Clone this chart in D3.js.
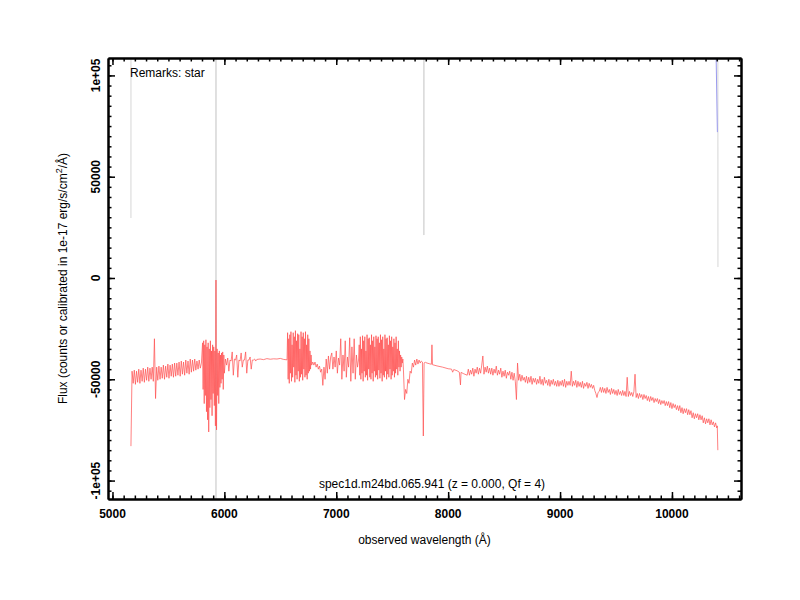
<!DOCTYPE html>
<html>
<head>
<meta charset="utf-8">
<script src="https://cdn.jsdelivr.net/npm/d3@7"></script>
<style>
  body { margin: 0; background: #fff; }
  svg { display: block; font-family: "Liberation Sans", Arial, sans-serif; }
</style>
</head>
<body>
<div id="chart"></div>
<script>
// All flux values below are in units of 1000 (1e-17 erg/s/cm^2/A)

// Spectrum, sampled on regular wavelength grids (start, step, values)
const fluxA = [-83, -46, -52, -45.5, -52.5, -46, -51.5, -45, -52, -45.5,
  -51, -44.5, -51.5, -45, -50.5, -44, -51, -44.5, -50, -44,
  -51, -30, -59.5, -44, -50.5, -43.5, -50, -44, -49.5, -43,
  -50, -43.5, -49, -42.5, -49.5, -43, -48.5, -42.5, -49, -42,
  -48.5, -42, -48, -41.5, -48.5, -41, -47.5, -41.5, -48, -40.5,
  -47, -41, -47.5, -40, -46.5, -40.5, -46, -40, -45.5, -41,
  -45, -40.5, -44.5, -42];
const fluxB = [-32, -55, -31, -62, -33, -58, -30.5, -66, -34, -70,
  -32, -76, -35, -64, -31, -60, -36, -68, -33, -57,
  -34, -63, -36, -73, -1, -75, -35, -58, -37, -62,
  -36, -54, -38, -52, -37, -50, -36.5, -55, -38, -47];
const fluxC = [-40, -43, -39.5, -46, -40.5, -41, -36.5, -48, -40, -40.5,
  -38, -49, -40.5, -41, -37, -44, -40.5, -40.5, -36.5, -47,
  -40.5, -40.5, -39, -45, -40.5, -40.5, -40, -41];
const fluxE = [-27, -50, -30, -52, -28, -47, -26.5, -51, -33, -49,
  -27, -44, -29, -51.5, -26, -48, -31, -50, -27.5, -46,
  -28, -51, -35, -49, -26.5, -47.5, -29, -50.5, -27, -45,
  -30, -49, -26.5, -48, -33, -50, -28, -47, -30, -46,
  -36, -45, -38, -43];
const fluxF = [-41.5, -43, -41.5, -44, -42.5, -45, -43.5, -46.5, -45, -53,
  -44, -50, -40, -47, -38.5, -45, -39];
const fluxG1 = [-37, -45, -39, -44, -36, -47, -39.5, -43, -30, -50,
  -38, -46, -31, -49, -39, -44, -29.5, -51, -34, -47,
  -30, -50, -38, -44, -40];
const fluxG2 = [-33, -48, -29, -50, -35, -47, -28.5, -51, -31, -46,
  -29, -49, -36, -48, -28, -50.5, -30, -45, -29.5, -49,
  -33, -50, -28, -47, -31, -51, -29, -46, -34, -49,
  -28.5, -48, -30, -50, -29, -45.5, -32, -49.5, -28, -47,
  -30.5, -51, -29, -48, -35, -49, -28, -46, -30, -50,
  -29.5, -47.5, -33, -49, -28.5, -45, -31, -50, -29, -48,
  -34, -46, -30, -49, -32, -47, -29, -45, -35, -48,
  -31, -44, -36, -46, -38, -44, -39, -42, -40];
const fluxJ = [
  -45, -48, -45.5, -47.5, -44.5, -48.5, -45, -47, -44, -47.5,
  -44.5, -47, -43, -38.5, -47.5, -44, -46.5, -43.5, -47, -44.5,
  -47.5, -44.5, -48, -45, -47, -43.5, -48, -45.5, -47.5, -44.5,
  -49, -46, -48.5, -45.5, -49.5, -46.5, -48, -46, -50, -46.5,
  -50.5, -47, -51, -60, -42, -50.5, -47.5, -51, -48, -50.5,
  -49, -51.5, -48.5, -52, -49, -51.5, -48.5, -52.5, -49.5, -51.5,
  -49.5, -52.5, -50, -52, -48.5, -52.5, -50, -53, -49, -52,
  -50.5, -53, -50, -53.5, -50.5, -52.5, -50, -53, -51, -53.5,
  -50.5, -53.5, -51, -53, -50.5, -53.5, -50, -54, -51, -53,
  -51, -53, -46, -53.5, -51, -53, -50.5, -54, -51, -53.5,
  -51.5, -54, -51, -54.5, -52, -53.5, -51.5, -54.5, -52, -54,
  -52.5, -54.5, -53, -55.5, -57, -59, -56.5, -56, -54, -56.5,
  -54, -56.5, -54.5, -57, -54, -56.5, -55, -57.5, -54.5, -57,
  -55, -57.5, -55.5, -58, -55, -57.5, -56, -58, -55.5, -58,
  -56, -58.5, -49, -58.5, -56, -58, -56.5, -58.5, -56, -47.5,
  -59, -57, -59.5, -57, -59, -57.5, -60, -57.5, -59.5, -58,
  -60.5, -58.5, -61, -58.5, -60.5, -59, -61.5, -59.5, -61, -59.5,
  -62, -60, -62.5, -60.5, -62, -60.5, -63, -61, -63, -61,
  -64, -61.5, -64.5, -62, -64, -62.5, -65, -63, -65.5, -63,
  -66.5, -64, -67, -64.5, -66.5, -64.5, -67.5, -65, -67.5, -65.5,
  -69, -66.5, -69.5, -67, -69, -67, -70, -67.5, -70, -68,
  -71.5, -69, -72, -69.5, -71.5, -69.5, -72.5, -70, -72.5, -71,
  -73.5, -71.5, -74];

// Spectrum, sparse parts as [wavelength, flux] pairs
const fluxFlat = [[6290, -40.2], [6320, -40], [6350, -40.3], [6380, -39.8], [6410, -40.1],
  [6440, -39.9], [6470, -40], [6500, -39.7], [6530, -40.2], [6560, -40.4]];
const fluxABand = [[7600, -45], [7610, -60], [7620, -55], [7630, -57], [7640, -50],
  [7650, -52], [7660, -46], [7670, -47], [7680, -42], [7690, -44], [7700, -40.5],
  [7710, -43], [7720, -40], [7730, -42.5], [7740, -40.5], [7750, -42], [7760, -41],
  [7770, -41.5], [7778, -78], [7785, -42], [7795, -41.5]];
const fluxSmooth = [[7800, -41.8], [7830, -42.3], [7850, -42.6], [7855, -33], [7860, -42.8],
  [7900, -43.4], [7950, -44], [8000, -44.8], [8030, -45], [8040, -46.5], [8050, -45.2],
  [8080, -45.8], [8100, -46.5], [8110, -52.8], [8115, -46.6], [8140, -47.3], [8170, -48]];
const fluxEnd = [[10405, -73], [10410, -85]];

// Grey (error) and blue traces, mostly off the top of the plot
const greyTrace = [[5165, 29.6], [5167, 500], [5924, 500], [5925, -500], [5926, 500],
  [7781, 500], [7783, 21.2], [7786, 500], [10408, 500], [10411, 5.4]];
const blueTrace = [[10390, 125], [10406, 72]];

// Axis ticks
const xMajor = [5000, 6000, 7000, 8000, 9000, 10000];
const xMinor = d3.range(5000, 10601, 100);
const yMajor = [-100000, -50000, 0, 50000, 100000];
const yLabels = ["-1e+05", "-50000", "0", "50000", "1e+05"];
const yMinor = d3.range(-105000, 105001, 5000);

const remark = "Remarks: star";
const specTitle = "spec1d.m24bd.065.941 (z = 0.000, Qf = 4)";

// Build the full spectrum from the pieces, in wavelength order
function gridded(start, step, values) {
    return values.map((v, i) => [start + i * step, v]);
}
const spectrum = [].concat(
    gridded(5165, 10, fluxA),
    gridded(5805, 5, fluxB),
    gridded(6010, 10, fluxC),
    fluxFlat,
    gridded(6565, 5, fluxE),
    gridded(6790, 10, fluxF),
    gridded(6960, 10, fluxG1),
    gridded(7205, 5, fluxG2),
    fluxABand,
    fluxSmooth,
    gridded(8180, 10, fluxJ),
    fluxEnd
);

const W = 800, H = 600;
const margin = { top: 58, right: 59, bottom: 101, left: 108 },
    width = W - margin.left - margin.right,
    height = H - margin.top - margin.bottom;

const x = d3.scaleLinear().domain([4960, 10617]).range([0, width]);
const y = d3.scaleLinear().domain([-109100, 108600]).range([height, 0]);

const svg = d3.select("#chart").append("svg")
    .attr("width", W)
    .attr("height", H);

const g = svg.append("g")
    .attr("transform", `translate(${margin.left},${margin.top})`);

g.append("clipPath").attr("id", "clip")
    .append("rect").attr("width", width).attr("height", height);

const line = d3.line()
    .x(d => x(d[0]))
    .y(d => y(d[1] * 1000));

const plot = g.append("g").attr("clip-path", "url(#clip)");

plot.append("path").datum(greyTrace)
    .attr("d", line)
    .attr("fill", "none")
    .attr("stroke", "#d6d6d6")
    .attr("stroke-width", 1);

plot.append("path").datum(blueTrace)
    .attr("d", line)
    .attr("fill", "none")
    .attr("stroke", "#9a9aee")
    .attr("stroke-width", 1);

plot.append("path").datum(spectrum)
    .attr("d", line)
    .attr("fill", "none")
    .attr("stroke", "#ff5050")
    .attr("stroke-opacity", 0.72)
    .attr("stroke-width", 1);

// Axes: inward ticks on all four sides, major and minor
function styleAxis(sel, w) {
    sel.selectAll("path").attr("stroke", "#000").attr("stroke-width", 2);
    sel.selectAll("line").attr("stroke", "#000").attr("stroke-width", w);
}

const axes = [
    [d3.axisBottom(x), `translate(0,${height})`],
    [d3.axisTop(x), null],
];
axes.forEach(([ax, tr]) => {
    const major = g.append("g").attr("transform", tr)
        .call(ax.tickValues(xMajor).tickSizeInner(-7).tickSizeOuter(0).tickFormat(""));
    styleAxis(major, 1.5);
    const minor = g.append("g").attr("transform", tr)
        .call(ax.tickValues(xMinor).tickSizeInner(-3.5).tickSizeOuter(0).tickFormat(""));
    styleAxis(minor, 1.5);
});

[[d3.axisLeft(y), null], [d3.axisRight(y), `translate(${width},0)`]].forEach(([ax, tr]) => {
    const major = g.append("g").attr("transform", tr)
        .call(ax.tickValues(yMajor).tickSizeInner(-7).tickSizeOuter(0).tickFormat(""));
    styleAxis(major, 1.5);
    const minor = g.append("g").attr("transform", tr)
        .call(ax.tickValues(yMinor).tickSizeInner(-3.5).tickSizeOuter(0).tickFormat(""));
    styleAxis(minor, 1.5);
});

// Tick labels
g.selectAll(".xlab").data(xMajor).enter()
    .append("text")
    .attr("class", "xlab")
    .attr("x", d => x(d))
    .attr("y", height + 19)
    .attr("text-anchor", "middle")
    .attr("font-size", 12)
    .attr("font-weight", "bold")
    .text(d => d);

g.selectAll(".ylab").data(yMajor).enter()
    .append("text")
    .attr("class", "ylab")
    .attr("transform", d => `translate(-8,${y(d)}) rotate(-90)`)
    .attr("text-anchor", "middle")
    .attr("font-size", 12)
    .attr("font-weight", "bold")
    .text((d, i) => yLabels[i]);

// Axis titles
svg.append("text")
    .attr("x", margin.left + width / 2)
    .attr("y", 544)
    .attr("text-anchor", "middle")
    .attr("font-size", 12)
    .text("observed wavelength (Å)");

const yTitle = svg.append("text")
    .attr("transform", `translate(67,${margin.top + height / 2}) rotate(-90)`)
    .attr("text-anchor", "middle")
    .attr("font-size", 12);
yTitle.append("tspan").text("Flux (counts or calibrated in 1e-17 erg/s/cm");
yTitle.append("tspan").attr("dy", -5).attr("font-size", 9).text("2");
yTitle.append("tspan").attr("dy", 5).text("/Å)");

// Annotations inside the plot
g.append("text")
    .attr("x", 22)
    .attr("y", 19)
    .attr("font-size", 12)
    .text(remark);

g.append("text")
    .attr("x", 432 - margin.left)
    .attr("y", 488 - margin.top)
    .attr("text-anchor", "middle")
    .attr("font-size", 12)
    .text(specTitle);
</script>
</body>
</html>
